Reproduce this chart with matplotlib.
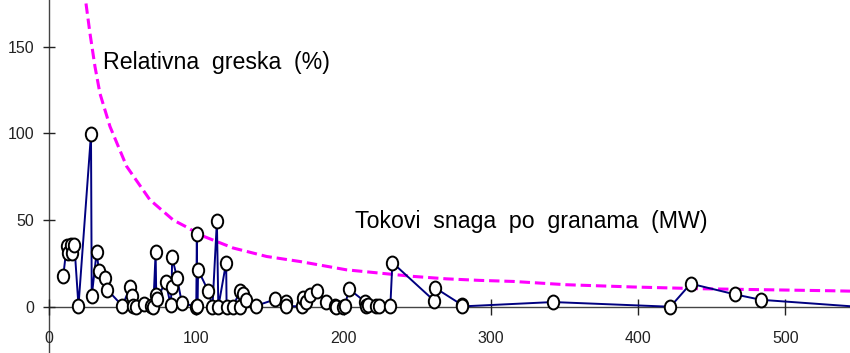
import numpy as np
import matplotlib
matplotlib.use('Agg')
import matplotlib.pyplot as plt
from matplotlib.path import Path

# Power flows per branch (MW), in drawing order
flow_x = [9.7, 12.0, 12.7, 15.0, 15.8, 17.2, 20.0, 28.5, 29.0, 32.3,
          34.0, 38.0, 39.6, 49.8, 55.2, 56.3, 57.0, 59.0, 64.5, 69.5,
          70.8, 72.4, 72.8, 73.2, 79.2, 82.6, 83.3, 83.6, 87.0, 90.2,
          100.0, 100.4, 100.7, 101.2, 108.2, 111.0, 114.0, 115.0, 120.3, 120.6,
          124.8, 129.8, 130.0, 131.9, 133.7, 140.5, 153.4, 160.7, 161.0, 171.5,
          172.6, 174.4, 177.0, 182.3, 188.4, 194.0, 195.0, 199.7, 201.0, 203.7,
          214.5, 215.0, 216.7, 222.3, 224.0, 231.8, 233.2, 261.5, 262.4, 280.5,
          280.8, 342.3, 422.0, 435.8, 466.0, 483.5, 544.0]
flow_y = [18.0, 35.0, 31.0, 35.8, 31.0, 35.8, 0.5, 99.6, 6.0, 31.3,
          20.4, 16.5, 9.8, 0.5, 11.5, 6.0, 0.5, 0.0, 1.3, 0.5,
          0.0, 31.5, 7.0, 4.2, 14.5, 1.0, 11.2, 28.5, 16.5, 2.2,
          0.0, 41.8, 0.5, 21.3, 9.0, 0.0, 49.2, 0.0, 25.5, 0.0,
          0.0, 9.0, 0.0, 7.2, 4.0, 0.5, 4.2, 2.5, 0.3, 0.3,
          5.0, 2.5, 7.0, 9.0, 2.5, 0.6, 0.0, 0.0, 0.5, 10.2,
          3.0, 0.5, 1.0, 0.6, 0.6, 0.2, 25.5, 3.5, 10.8, 1.0,
          0.2, 2.7, 0.0, 13.3, 7.1, 4.0, 0.3]

# Relative error curve (%)
err_x = [25.1, 27.8, 31.2, 34.6, 41.4, 52.7, 68.5, 84.4, 93.4, 102.4,
         125.0, 147.8, 170.4, 202.0, 224.6, 247.3, 269.9, 292.6, 315.2, 351.3,
         396.5, 441.9, 487.0, 532.3, 544.0]
err_y = [175.0, 157.8, 138.6, 123.0, 104.0, 81.0, 61.7, 50.0, 46.0, 41.5,
         33.9, 29.0, 26.1, 21.3, 19.4, 17.5, 16.1, 15.2, 14.6, 12.7,
         11.4, 10.4, 9.8, 9.2, 9.0]

xticks = [0, 100, 200, 300, 400, 500]
yticks = [0, 50, 100, 150]

# slightly tall open ellipse for the markers
circle = Path.unit_circle()
ellipse = Path(circle.vertices * np.array([0.82, 1.0]), circle.codes)

fig = plt.figure(figsize=(8.5, 3.53), dpi=100)
ax = fig.add_axes([0, 0, 1, 1])
ax.set_xlim(-33.3, 544)
ax.set_ylim(-26.7, 177)
ax.patch.set_alpha(0)

ax.plot(err_x, err_y, color='#ff00ff', lw=2.2, dashes=(3.4, 1.6), zorder=2)
ax.plot(flow_x, flow_y, color='#000080', lw=1.4, zorder=3,
        marker=ellipse, ms=10, mfc='white', mec='black', mew=1.4,
        markevery=list(range(len(flow_x) - 1)))

ax.text(36.7, 141, 'Relativna  greska  (%)', fontsize=16.7,
        family='Liberation Sans', va='center', ha='left')
ax.text(207.7, 49, 'Tokovi  snaga  po  granama  (MW)', fontsize=16.7,
        family='Liberation Sans', va='center', ha='left')

for side in ['top', 'right']:
    ax.spines[side].set_visible(False)
ax.spines['left'].set_position(('data', 0))
ax.spines['bottom'].set_position(('data', 0))
ax.spines['bottom'].set_bounds(0, 544)
for side in ['left', 'bottom']:
    ax.spines[side].set_color('#444444')
    ax.spines[side].set_linewidth(1.0)
    ax.spines[side].set_zorder(1)

ax.set_xticks(xticks)
ax.set_yticks(yticks)
ax.tick_params(axis='x', direction='inout', length=11, width=1.0,
               color='#222222', pad=12, labelsize=11.5)
ax.tick_params(axis='y', direction='inout', length=9, width=1.0,
               color='#222222', pad=6, labelsize=11.5)
for lab in ax.get_xticklabels() + ax.get_yticklabels():
    lab.set_family('Liberation Sans')
    lab.set_color('#222222')

fig.savefig('out.png', dpi=100)
